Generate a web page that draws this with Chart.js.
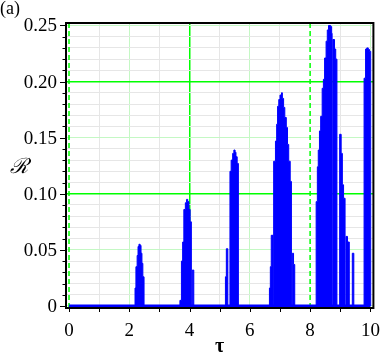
<!DOCTYPE html>
<html>
<head>
<meta charset="utf-8">
<script src="https://cdn.jsdelivr.net/npm/chart.js@4.4.0/dist/chart.umd.min.js"></script>
<style>
  html, body { margin: 0; padding: 0; background: #fff; }
</style>
</head>
<body>
<canvas id="chart" width="392" height="357"></canvas>
<script>
// DATA: step left edges (tau) and heights (R)
const tau = [
  0, 2.19, 2.22, 2.26, 2.29, 2.32, 2.36, 2.39, 2.42, 2.45, 2.49,
  3.68, 3.73, 3.77, 3.81, 3.86, 3.90, 3.94, 3.98, 4.02, 4.06, 4.09, 4.14,
  5.19, 5.22, 5.27, 5.34, 5.38, 5.43, 5.47, 5.51, 5.54, 5.58, 5.62,
  6.65, 6.68, 6.71, 6.77, 6.79, 6.85, 6.89, 6.92, 6.96, 7.00, 7.05, 7.08,
  7.12, 7.16, 7.21, 7.25, 7.29, 7.34, 7.38, 7.41, 7.45, 7.49,
  8.20, 8.24, 8.27, 8.31, 8.35, 8.40, 8.44, 8.48, 8.53, 8.57, 8.61, 8.68,
  8.715, 8.73, 8.755, 8.81, 8.85, 8.89,
  8.98, 9.03, 9.07, 9.11, 9.16, 9.19, 9.24, 9.30, 9.40, 9.45,
  9.79, 9.84, 9.88, 9.93, 9.97, 10.01
];
const R = [
  0, 0.016, 0.035, 0.045, 0.053, 0.055, 0.054, 0.047, 0.038, 0.026, 0,
  0.005, 0.040, 0.057, 0.086, 0.092, 0.095, 0.093, 0.086, 0.075, 0, 0.032, 0,
  0.026, 0.051, 0, 0.120, 0.130, 0.136, 0.139, 0.137, 0.133, 0.127, 0,
  0.016, 0.035, 0.063, 0, 0.129, 0.147, 0.162, 0.178, 0.184, 0.188, 0.190, 0.185,
  0.177, 0.168, 0.159, 0.144, 0.129, 0.111, 0, 0.047, 0.037, 0,
  0.093, 0.124, 0.139, 0.156, 0.169, 0.194, 0.202, 0.221, 0.236, 0.246, 0.250, 0.249,
  0.243, 0, 0.2375, 0.229, 0.220, 0,
  0.153, 0.136, 0.108, 0.096, 0, 0.062, 0.057, 0, 0.047, 0,
  0.203, 0.229, 0.230, 0.2286, 0.227, 0
];
const baseTau = [0, 10];
const baseR = [0, 0];

const xTicks = [0, 1, 2, 3, 4, 5, 6, 7, 8, 9, 10];
const xTickLabels = ["0", "2", "4", "6", "8", "10"];
const yMajor = [0, 0.05, 0.10, 0.15, 0.20, 0.25];
const yTickLabels = ["0", "0.05", "0.10", "0.15", "0.20", "0.25"];
const yMinor = [];
for (let i = 0; i <= 25; i++) yMinor.push(i / 100);

const dashedX = [0, 8];

const BRIGHT = "#00ff00";
const LIGHT = "#c4f8c4";
const GRAY = "#e6e6e6";
const near = (a, b) => Math.abs(a - b) < 1e-6;

function xGridColor(v) {
  if (dashedX.some((d) => near(d, v))) return "rgba(0,0,0,0)";
  if (near(v, 4)) return BRIGHT;
  if (near(v % 2, 0)) return LIGHT;
  return GRAY;
}
function yGridColor(v) {
  if (near(v, 0.1) || near(v, 0.2)) return BRIGHT;
  if (yMajor.some((m) => near(m, v))) return LIGHT;
  return GRAY;
}

// extra drawing: dashed green lines, box, tick marks, labels
const decor = {
  id: "decor",
  beforeDatasetsDraw(chart) {
    const { ctx, chartArea: a, scales } = chart;
    ctx.save();
    ctx.strokeStyle = BRIGHT;
    ctx.lineWidth = 1.5;
    ctx.setLineDash([5, 3]);
    dashedX.forEach((v) => {
      const px = scales.x.getPixelForValue(v);
      ctx.beginPath();
      ctx.moveTo(px, a.top);
      ctx.lineTo(px, a.bottom);
      ctx.stroke();
    });
    ctx.restore();
  },
  afterDraw(chart) {
    const { ctx, chartArea: a, scales } = chart;
    ctx.save();
    ctx.strokeStyle = "#000";
    ctx.lineWidth = 1;
    yMinor.forEach((v) => {
      const py = Math.round(scales.y.getPixelForValue(v)) + 0.5;
      const len = yMajor.some((m) => near(m, v)) ? 6 : 3.5;
      ctx.beginPath();
      ctx.moveTo(a.left - len, py);
      ctx.lineTo(a.left, py);
      ctx.stroke();
    });
    xTicks.forEach((v) => {
      const px = Math.round(scales.x.getPixelForValue(v)) + 0.5;
      ctx.beginPath();
      ctx.moveTo(px, a.bottom);
      ctx.lineTo(px, a.bottom + 4);
      ctx.stroke();
    });
    ctx.lineWidth = 2;
    ctx.strokeRect(a.left, a.top, a.right - a.left, a.bottom - a.top);

    ctx.fillStyle = "#000";
    ctx.font = 'italic 21px "DejaVu Serif"';
    ctx.textAlign = "center";
    ctx.textBaseline = "middle";
    ctx.fillText("ℛ", 19, 168);

    ctx.font = '18px "Liberation Serif"';
    ctx.textAlign = "left";
    ctx.textBaseline = "top";
    ctx.fillText("(a)", 0, 0);
    ctx.restore();
  },
};

const ctx = document.getElementById("chart").getContext("2d");
new Chart(ctx, {
  type: "line",
  data: {
    datasets: [
      {
        data: tau.map((t, i) => ({ x: t, y: R[i] })),
        stepped: true,
        fill: "origin",
        borderColor: "#0000ff",
        backgroundColor: "#0000ff",
        borderWidth: 1,
        pointRadius: 0,
      },
      {
        data: baseTau.map((t, i) => ({ x: t, y: baseR[i] })),
        borderColor: "#0000ff",
        borderWidth: 3,
        pointRadius: 0,
        fill: false,
      },
    ],
  },
  options: {
    responsive: false,
    animation: false,
    devicePixelRatio: 1,
    layout: { padding: { left: 0, right: 11, top: 23, bottom: 0 } },
    plugins: { legend: { display: false }, tooltip: { enabled: false } },
    scales: {
      x: {
        type: "linear",
        min: -0.1,
        max: 10.1,
        afterBuildTicks: (s) => {
          s.ticks = xTicks.map((v) => ({ value: v }));
        },
        afterFit: (s) => {
          s.height = 49;
        },
        border: { display: false },
        grid: {
          drawTicks: false,
          color: (c) => xGridColor(c.tick.value),
          lineWidth: (c) => (near(c.tick.value, 4) ? 1.5 : 1),
        },
        ticks: {
          autoSkip: false,
          maxRotation: 0,
          padding: 12,
          color: "#000",
          font: { family: "Liberation Serif", size: 19 },
          callback: (v) => {
            const s = String(v);
            return xTickLabels.includes(s) ? s : "";
          },
        },
        title: {
          display: true,
          text: "τ",
          color: "#000",
          font: { family: "Liberation Serif", size: 20, weight: "bold", lineHeight: 1 },
          padding: { top: 0, bottom: 0 },
        },
      },
      y: {
        min: -0.0018,
        max: 0.2522,
        afterBuildTicks: (s) => {
          s.ticks = yMinor.map((v) => ({ value: v }));
        },
        afterFit: (s) => {
          s.width = 66;
        },
        border: { display: false },
        grid: {
          drawTicks: false,
          color: (c) => yGridColor(c.tick.value),
          lineWidth: (c) => (yGridColor(c.tick.value) === BRIGHT ? 1.5 : 1),
        },
        ticks: {
          autoSkip: false,
          padding: 9,
          labelOffset: 1,
          color: "#000",
          font: { family: "Liberation Serif", size: 19 },
          callback: (v) => {
            const i = yMajor.findIndex((m) => near(m, v));
            return i >= 0 ? yTickLabels[i] : "";
          },
        },
      },
    },
  },
  plugins: [decor],
});
</script>
</body>
</html>
